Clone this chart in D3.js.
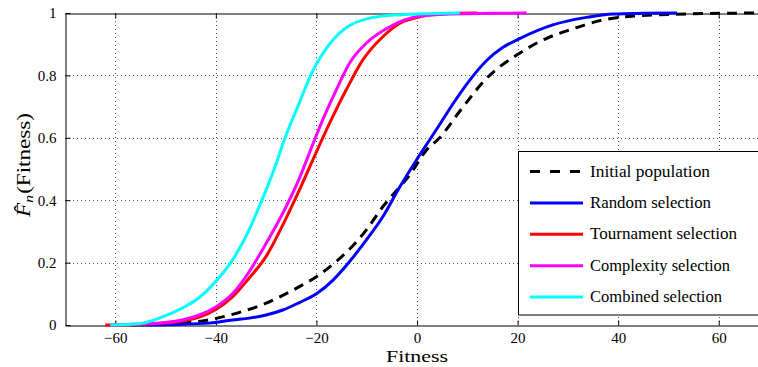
<!DOCTYPE html>
<html>
<head>
<meta charset="utf-8">
<script src="https://cdn.jsdelivr.net/npm/d3@7"></script>
<style>
  html, body { margin: 0; padding: 0; background: #fff; }
  svg { display: block; }
</style>
</head>
<body>
<svg id="chart" width="758" height="367"></svg>
<script>
// Empirical CDF of fitness for each population (fitness value, cumulative fraction)
const seriesNames = ["Initial population", "Random selection", "Tournament selection", "Complexity selection", "Combined selection"];
const seriesColors = ["#000000", "#0000ff", "#ff0000", "#ff00ff", "#00ffff"];

const initialX = [-57, -50, -43, -40, -35, -30, -26.7, -23.4, -20, -16.7, -14.1, -10.1, -6.8, -4.1, -1.5, 1.9, 4.5, 8.5, 13.8, 19.8, 25.8, 30.4, 37.1, 43, 50, 60, 70];
const initialF = [0, 0.004, 0.012, 0.021, 0.042, 0.07, 0.095, 0.123, 0.155, 0.195, 0.232, 0.304, 0.379, 0.43, 0.48, 0.561, 0.6, 0.685, 0.79, 0.865, 0.919, 0.946, 0.978, 0.99, 0.995, 0.999, 1];

const randomX = [-55, -48, -41.3, -36.7, -33.3, -30, -26.7, -23.4, -20, -16.7, -14.1, -10.1, -6.8, -3.4, -0.1, 2.5, 4.8, 7.2, 10.5, 13.8, 17.1, 20.4, 27, 33.7, 39, 45, 51.7];
const randomF = [0, 0.002, 0.006, 0.016, 0.022, 0.032, 0.048, 0.072, 0.1, 0.144, 0.19, 0.272, 0.347, 0.443, 0.529, 0.593, 0.65, 0.71, 0.785, 0.847, 0.89, 0.918, 0.962, 0.986, 0.997, 0.999, 1];

const tournamentX = [-62, -55, -50, -46.5, -43.3, -40, -36.7, -33.4, -30, -26.7, -23.4, -20, -17.4, -14.1, -10.8, -6.8, -3.4, 1.2, 6, 12];
const tournamentF = [0, 0.002, 0.006, 0.013, 0.025, 0.05, 0.09, 0.15, 0.22, 0.32, 0.432, 0.555, 0.646, 0.753, 0.849, 0.924, 0.967, 0.99, 0.998, 1];

const complexityX = [-61, -55, -50, -46.5, -43.3, -40, -36.7, -33.4, -30, -26.7, -23.4, -20.7, -19, -16, -13.4, -10.1, -5.4, -0.1, 6.5, 15, 21.8];
const complexityF = [0, 0.003, 0.008, 0.017, 0.032, 0.058, 0.1, 0.17, 0.262, 0.358, 0.47, 0.58, 0.648, 0.755, 0.84, 0.903, 0.956, 0.988, 0.997, 0.999, 1];

const combinedX = [-61, -55, -50, -46, -43.3, -40, -36.7, -33.4, -31.4, -30, -28, -26.4, -23.4, -21, -17.4, -13.4, -7, 0, 8.5];
const combinedF = [0, 0.005, 0.03, 0.06, 0.088, 0.14, 0.208, 0.304, 0.379, 0.433, 0.518, 0.593, 0.712, 0.805, 0.9, 0.96, 0.99, 0.997, 1];

const xTicks = [-60, -40, -20, 0, 20, 40, 60];
const yTicks = [0, 0.2, 0.4, 0.6, 0.8, 1];
const yTickLabels = ["0", "0.2", "0.4", "0.6", "0.8", "1"];

const seriesX = [initialX, randomX, tournamentX, complexityX, combinedX];
const seriesF = [initialF, randomF, tournamentF, complexityF, combinedF];

// Layout
const plotLeft = 65, plotTop = 13, plotBottom = 325, plotRight = 769;
const serif = "'Liberation Serif', 'DejaVu Serif', serif";
const svg = d3.select("#chart");

const x = d3.scaleLinear().domain([-70, 70]).range([plotLeft, plotRight]);
const y = d3.scaleLinear().domain([0, 1]).range([plotBottom, plotTop]);

svg.append("defs").append("clipPath").attr("id", "plotClip")
  .append("rect").attr("x", plotLeft).attr("y", plotTop - 2)
  .attr("width", plotRight - plotLeft).attr("height", plotBottom - plotTop + 4);

// Dotted grid
const grid = svg.append("g").attr("stroke", "#555").attr("stroke-width", 1).attr("stroke-dasharray", "1,3");
grid.selectAll("line.gx").data(xTicks).join("line")
  .attr("x1", d => Math.round(x(d)) + 0.5).attr("x2", d => Math.round(x(d)) + 0.5)
  .attr("y1", plotTop).attr("y2", plotBottom);
grid.selectAll("line.gy").data(yTicks.filter(d => d > 0 && d < 1)).join("line")
  .attr("y1", d => Math.round(y(d)) + 0.5).attr("y2", d => Math.round(y(d)) + 0.5)
  .attr("x1", plotLeft).attr("x2", plotRight);

// Axes with inward ticks, drawn as a box
const axBottom = d3.axisBottom(x).tickValues(xTicks).tickSizeInner(-5).tickSizeOuter(0).tickPadding(7)
  .tickFormat(d3.format("d"));
const axTop = d3.axisTop(x).tickValues(xTicks).tickSizeInner(-5).tickSizeOuter(0).tickFormat("");
const axLeft = d3.axisLeft(y).tickValues(yTicks).tickSizeInner(-5).tickSizeOuter(0).tickPadding(9)
  .tickFormat((d, i) => yTickLabels[i]);
const axRight = d3.axisRight(y).tickValues(yTicks).tickSizeInner(-5).tickSizeOuter(0).tickFormat("");

function styleAxis(g) {
  g.attr("font-family", serif);
  g.select(".domain").attr("stroke", "#000").attr("stroke-width", 1);
  g.selectAll(".tick line").attr("stroke", "#000");
  g.selectAll(".tick text").attr("font-size", 15).attr("fill", "#000");
}

svg.append("g").attr("transform", `translate(0,${plotBottom + 0.5})`).call(axBottom).call(styleAxis);
svg.append("g").attr("transform", `translate(0,${plotTop + 0.5})`).call(axTop).call(styleAxis);
svg.append("g").attr("transform", `translate(${plotLeft + 0.5},0)`).call(axLeft).call(styleAxis);
svg.append("g").attr("transform", `translate(${plotRight},0)`).call(axRight).call(styleAxis);

// CDF curves
const line = d3.line().x(d => x(d[0])).y(d => y(d[1])).curve(d3.curveMonotoneX);
const curves = svg.append("g").attr("clip-path", "url(#plotClip)");
seriesX.forEach((xs, i) => {
  const pts = xs.map((v, j) => [v, seriesF[i][j]]);
  curves.append("path")
    .attr("d", line(pts))
    .attr("fill", "none")
    .attr("stroke", seriesColors[i])
    .attr("stroke-width", 3)
    .attr("stroke-linejoin", "round")
    .attr("stroke-dasharray", i === 0 ? "10,7" : null);
});

// Axis labels
svg.append("text")
  .attr("font-family", serif)
  .attr("x", x(0)).attr("y", 362)
  .attr("text-anchor", "middle").attr("font-size", 17)
  .attr("textLength", 62).attr("lengthAdjust", "spacingAndGlyphs")
  .text("Fitness");

const yl = svg.append("text")
  .attr("font-family", serif)
  .attr("transform", `translate(30,165) rotate(-90)`)
  .attr("text-anchor", "middle").attr("font-size", 18)
  .attr("textLength", 104).attr("lengthAdjust", "spacingAndGlyphs");
yl.append("tspan").attr("font-style", "italic").text("F\u0302");
yl.append("tspan").attr("font-style", "italic").attr("font-size", 12).attr("dy", 3).text("n");
yl.append("tspan").attr("dy", -3).attr("dx", 1).text("(Fitness)");

// Legend
const legX = 518.5, legY = 151.5, legH = 163.5;
const legend = svg.append("g").attr("font-family", serif);
legend.append("rect")
  .attr("x", legX).attr("y", legY).attr("width", 300).attr("height", legH)
  .attr("fill", "#fff").attr("stroke", "#000").attr("stroke-width", 1);

const legendWidths = [120, 121, 147, 140, 132];
const rowY = d3.scaleLinear().domain([0, 4]).range([171.5, 297]);
seriesNames.forEach((name, i) => {
  const yy = rowY(i);
  legend.append("line")
    .attr("x1", 530).attr("x2", 583).attr("y1", yy).attr("y2", yy)
    .attr("stroke", seriesColors[i]).attr("stroke-width", 3)
    .attr("stroke-dasharray", i === 0 ? "10,10" : null);
  legend.append("text")
    .attr("x", 590).attr("y", yy + 5)
    .attr("font-size", 16)
    .attr("textLength", legendWidths[i]).attr("lengthAdjust", "spacingAndGlyphs")
    .text(name);
});
</script>
</body>
</html>
